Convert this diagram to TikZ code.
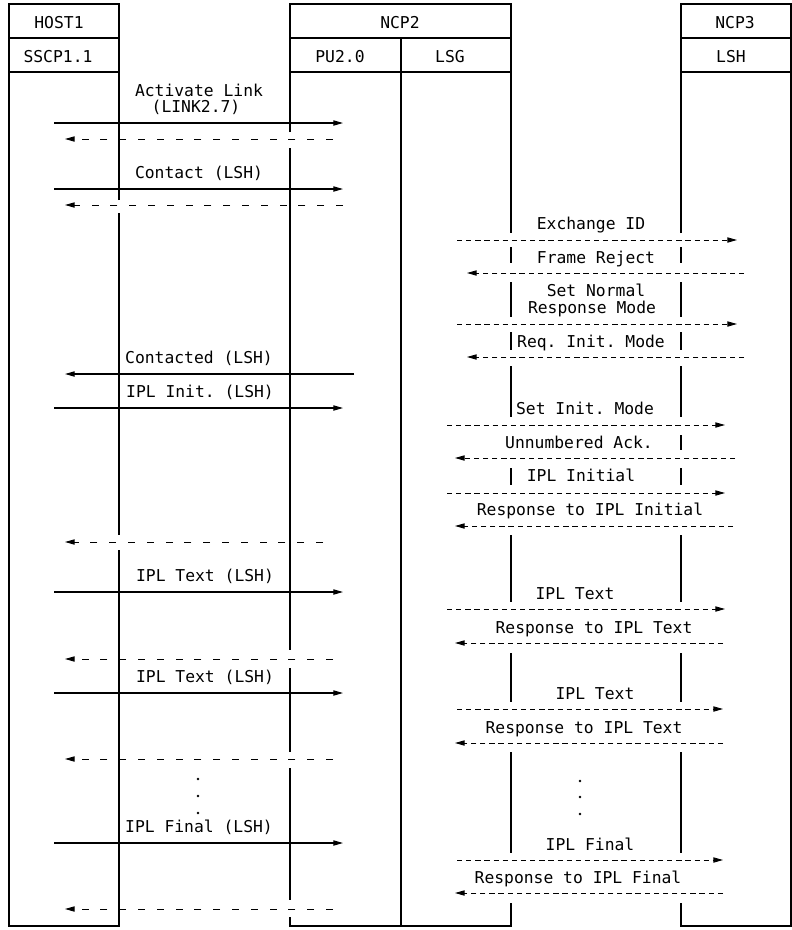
\documentclass[tikz,border=0pt]{standalone}
\usepackage{fontspec}
\setmonofont{DejaVu Sans Mono}
\usetikzlibrary{arrows.meta}
\tikzset{
 frame/.style={line width=.75pt},
 req/.style={line width=.6pt,-{Triangle[length=5.5pt,width=3pt]}},
 rsp/.style={req,line width=.5pt,dash pattern=on 4pt off 6.7pt},
 dlc/.style={line width=.5pt,-{Triangle[length=5.5pt,width=3pt]},dash pattern=on 3pt off 2.2pt},
 lbl/.style={anchor=base,inner sep=0pt}
}

\begin{document}
\begin{tikzpicture}[x=.2mm,y=-.2mm,font=\ttfamily\fontsize{9.3pt}{11pt}\selectfont]
\useasboundingbox (0,0) rectangle (792,930);
% HOST1 column (right edge broken where two replies cross)
\draw[frame] (119,200)--(119,4)--(9,4)--(9,926)--(119,926)--(119,550);
\draw[frame] (119,213)--(119,535);
\draw[frame] (9,38)--(119,38) (9,72)--(119,72);
\node[lbl] (host) at (59,28.5) {HOST1};
\node[lbl] (sscp) at (58,62) {SSCP1.1};
% NCP2 column, split into PU2.0 and LSG
\draw[frame] (290,132)--(290,4)--(511,4)--(511,233);
\draw[frame] (290,148)--(290,650) (290,668)--(290,752) (290,768)--(290,900);
\draw[frame] (290,917)--(290,926)--(511,926)--(511,903);
\draw[frame] (290,38)--(511,38) (290,72)--(511,72) (401,38)--(401,926);
\node[lbl] (ncp2) at (400,28) {NCP2};
\node[lbl] (pu) at (340,62) {PU2.0};
\node[lbl] (lsg) at (450,62) {LSG};
% NCP3 column
\draw[frame] (681,233)--(681,4)--(791,4)--(791,926)--(681,926)--(681,903);
\draw[frame] (681,38)--(791,38) (681,72)--(791,72);
\node[lbl] (ncp3) at (735,28) {NCP3};
\node[lbl] (lsh) at (731,62) {LSH};
% link edges between LSG and LSH, cut at every frame
\foreach \t/\b in {247/263,282/317,332/350,366/417,468/485,535/602,653/702,752/853}
 \draw[frame] (511,\t)--(511,\b) (681,\t)--(681,\b);
\draw[frame] (681,435)--(681,450);
% SSCP <-> PU requests and replies
\foreach \y in {123,189,408,592,693,843}
 \draw[req] (54,\y)--(343,\y);
\draw[req] (354,374)--(65,374);
\foreach \y/\a in {139/333,205/343,542/323,659/333,759/333,909/333}
 \draw[rsp] (\a,\y)--(65,\y);
\node[lbl] (act) at (199,96) {Activate Link};
\node[lbl] (actl) at (196,112) {(LINK2.7)};
\node[lbl] (cnt) at (199,178.5) {Contact (LSH)};
\node[lbl] (cntd) at (199,363) {Contacted (LSH)};
\node[lbl] (init) at (200,397) {IPL Init. (LSH)};
\node[lbl] (txta) at (205,581) {IPL Text (LSH)};
\node[lbl] (txtb) at (205,682) {IPL Text (LSH)};
\node[lbl] (fin) at (199,832) {IPL Final (LSH)};
\foreach \y in {779,796,813} \fill (198,\y) circle (1.4);
% LSG <-> LSH link-level frames
\foreach \y/\a/\b in {240/457/737,273/744/467,324/457/737,357/744/467,
 425/447/725,458/735/455,493/447/725,526/733/455,609/447/725,643/723/455,
 709/457/723,743/723/455,860/457/723,893/723/455}
 \draw[dlc] (\a,\y)--(\b,\y);
\node[lbl] (xid) at (591,229) {Exchange ID};
\node[lbl] (frmr) at (596,263) {Frame Reject};
\node[lbl] (snrm) at (596,296) {Set Normal};
\node[lbl] (snrmb) at (592,313) {Response Mode};
\node[lbl] (rim) at (591,347) {Req. Init. Mode};
\node[lbl] (sim) at (585,414) {Set Init. Mode};
\node[lbl] (ua) at (579,448) {Unnumbered Ack.};
\node[lbl] (ipli) at (581,481) {IPL Initial};
\node[lbl] (rspi) at (590,515) {Response to IPL Initial};
\node[lbl] (iplta) at (575,599) {IPL Text};
\node[lbl] (rspta) at (594,633) {Response to IPL Text};
\node[lbl] (ipltb) at (595,699) {IPL Text};
\node[lbl] (rsptb) at (584,733) {Response to IPL Text};
\node[lbl] (iplf) at (590,850) {IPL Final};
\node[lbl] (rspf) at (578,883) {Response to IPL Final};
\foreach \y in {781,797,814} \fill (580,\y) circle (1.4);
\end{tikzpicture}
\end{document}
